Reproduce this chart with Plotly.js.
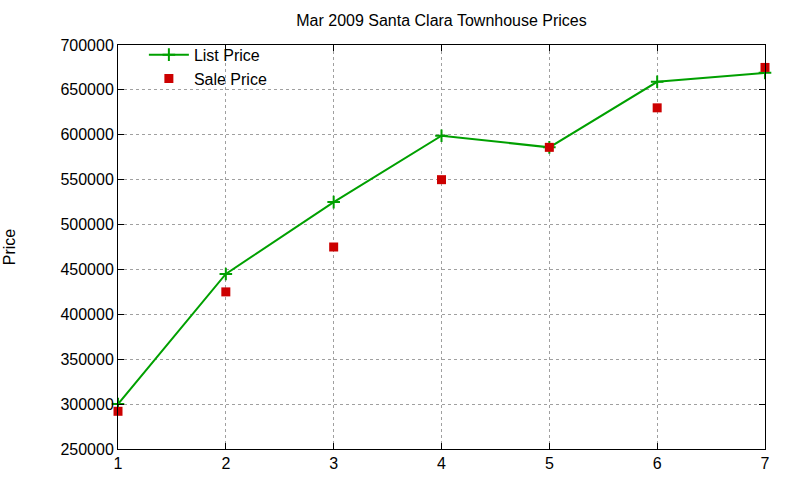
<!DOCTYPE html>
<html>
<head>
    <meta charset="UTF-8">
    <title>Townhouse Prices</title>
    <script src="https://cdn.plot.ly/plotly-3.0.1.min.js"></script>
    <style>
    body { margin: 0; padding: 0; background: white; }
    #chart { width: 800px; height: 480px; }
    </style>
</head>
<body>
    <div id="chart"></div>
    <script>
        // month index and prices
        var months = [1, 2, 3, 4, 5, 6, 7];
        var listPrice = [300000, 445000, 525000, 599000, 586000, 659000, 669000];
        var salePrice = [292000, 425000, 475000, 550000, 586000, 630000, 675000];

        var fontFam = 'Liberation Sans, Arial, sans-serif';

        var listTrace = {
            x: months,
            y: listPrice,
            name: 'List Price',
            type: 'scatter',
            mode: 'lines+markers',
            line: { color: '#00a000', width: 2 },
            marker: { symbol: 'cross-thin', size: 9, line: { color: '#00a000', width: 2 } },
            cliponaxis: false
        };

        var saleTrace = {
            x: months,
            y: salePrice,
            name: 'Sale Price',
            type: 'scatter',
            mode: 'markers',
            marker: { symbol: 'square', size: 9, color: '#cc0000' },
            cliponaxis: false
        };

        var axisStyle = {
            showline: true,
            linecolor: 'black',
            linewidth: 1,
            mirror: 'ticks',
            ticks: 'inside',
            ticklen: 6,
            tickcolor: 'black',
            showgrid: true,
            gridcolor: '#a0a0a0',
            griddash: 'dot',
            zeroline: false,
            tickfont: { family: fontFam, size: 16, color: 'black' }
        };

        var layout = {
            title: {
                text: 'Mar 2009 Santa Clara Townhouse Prices',
                font: { family: fontFam, size: 16, color: 'black' },
                xref: 'paper', x: 0.5, xanchor: 'center', y: 0.958, yanchor: 'middle'
            },
            font: { family: fontFam, color: 'black' },
            xaxis: Object.assign({}, axisStyle, { range: [1, 7], dtick: 1 }),
            yaxis: Object.assign({}, axisStyle, {
                range: [250000, 700000], dtick: 50000, tickformat: 'd',
                title: { text: 'Price', font: { family: fontFam, size: 16 }, standoff: 40 }
            }),
            showlegend: true,
            legend: {
                x: 0.04, y: 1.018, xanchor: 'left', yanchor: 'top',
                bgcolor: 'rgba(0,0,0,0)',
                font: { family: fontFam, size: 16 },
                tracegroupgap: 0,
                itemwidth: 40
            },
            margin: { l: 118, r: 35, t: 45, b: 31 },
            paper_bgcolor: 'white',
            plot_bgcolor: 'white'
        };

        Plotly.newPlot('chart', [listTrace, saleTrace], layout, { displayModeBar: false });
    </script>
</body>
</html>
